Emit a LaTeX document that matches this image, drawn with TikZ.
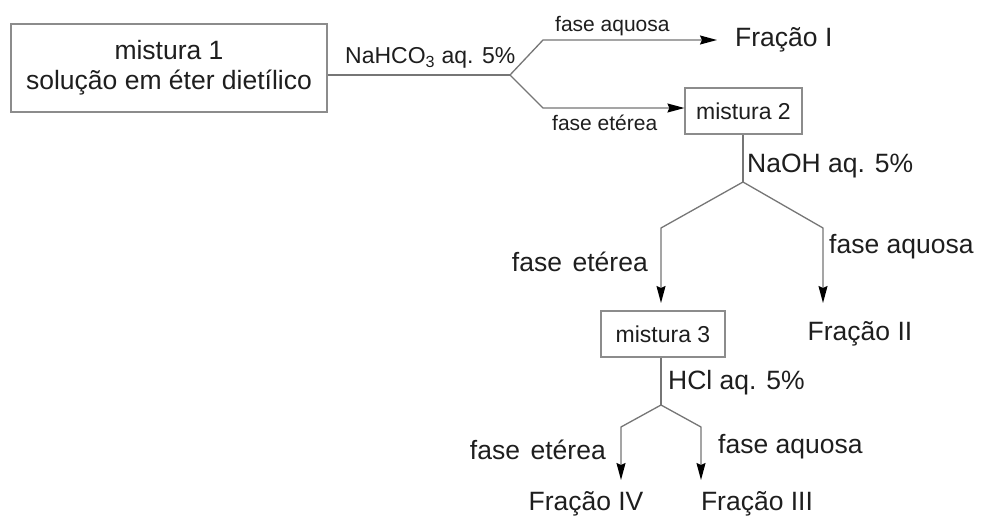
\documentclass[tikz,border=0pt]{standalone}
\usepackage{fontspec}
\setmainfont{Liberation Sans}
\usetikzlibrary{arrows.meta}
\definecolor{txt}{HTML}{1E1E1E}
\definecolor{linegray}{HTML}{767676}
\definecolor{boxgray}{HTML}{8C8C8C}
\begin{document}
\begin{tikzpicture}[x=1pt,y=-1pt,
  every node/.style={text=txt, inner sep=0pt},
  box/.style={draw=boxgray, line width=1.2pt, align=center},
  conn/.style={draw=linegray, line width=1.3pt},
  arr/.style={conn, -{Stealth[length=17pt,width=9pt,inset=2pt,color=black]}},
  big/.style={font=\fontsize{26.5}{30}\selectfont},
  mid/.style={font=\fontsize{23}{26}\selectfont},
  small/.style={font=\fontsize{21}{24}\selectfont}
]
\useasboundingbox (0,0) rectangle (983,520);
\fill[white] (0,0) rectangle (983,520);

% boxes
\node[box,big,minimum width=316pt,minimum height=88pt] (m1) at (169,68) {mistura 1\\solução em éter dietílico};
\node[box,mid,minimum width=117pt,minimum height=46pt] (m2) at (743.5,111) {mistura 2};
\node[box,mid,minimum width=124pt,minimum height=46pt] (m3) at (663,334) {mistura 3};

% fractions
\node[big,anchor=west] (f1) at (735,40) {Fração I};
\node[big] (f2) at (860,334) {Fração II};
\node[big] (f4) at (586,504) {Fração IV};
\node[big] (f3) at (757,504) {Fração III};

% branch coordinates
\coordinate (b1) at (510,75);
\coordinate (u1) at (543,40);
\coordinate (l1) at (543,108);
\coordinate (b2) at (743,182);
\coordinate (u2) at (661,228);
\coordinate (v2) at (823,228);
\coordinate (b3) at (661,405);
\coordinate (u3) at (621,427);
\coordinate (v3) at (701,427);

% connectors
\draw[conn] (b1 -| m1.east) -- (b1);
\draw[arr] (b1) -- (u1) -- ([xshift=-18pt]f1.west);
\draw[arr] (b1) -- (l1) -- (l1 -| m2.west);
\draw[conn] (m2.south -| b2) -- (b2);
\draw[arr] (b2) -- (u2) -- (u2 |- 0,303);
\draw[arr] (b2) -- (v2) -- (v2 |- 0,303);
\draw[conn] (m3.south -| b3) -- (b3);
\draw[arr] (b3) -- (u3) -- (u3 |- 0,480);
\draw[arr] (b3) -- (v3) -- (v3 |- 0,480);

% labels
\node[mid,anchor=west] (lnahco3) at (345,58) {NaHCO\textsubscript{3} aq. 5\%};
\node[small,anchor=west] (laq1) at (555,26) {fase aquosa};
\node[small,anchor=west] (let1) at (552,123) {fase etérea};
\node[big,anchor=west] (lnaoh) at (747,166) {NaOH aq. 5\%};
\node[big,anchor=east] (let2) at (648,262) {fase\hspace{0.4em}etérea};
\node[big,anchor=west] (laq2) at (829,247) {fase aquosa};
\node[big,anchor=west] (lhcl) at (668,383) {HCl aq. 5\%};
\node[big,anchor=east] (let3) at (606,450) {fase\hspace{0.4em}etérea};
\node[big,anchor=west] (laq3) at (718,447) {fase aquosa};
\end{tikzpicture}
\end{document}
